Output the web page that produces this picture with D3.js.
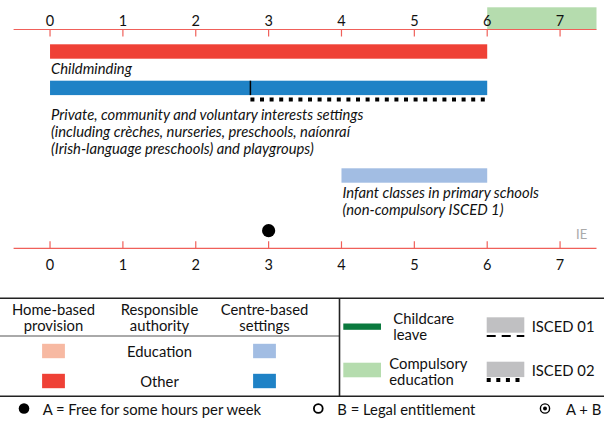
<!DOCTYPE html>
<html>
<head>
<meta charset="utf-8">
<script src="https://cdn.jsdelivr.net/npm/d3@7"></script>
<style>
  body { margin: 0; background: #fff; }
  svg { display: block; font-family: Lato, "Open Sans", sans-serif; }
</style>
</head>
<body>
<div id="chart"></div>
<script>
// ages on the axis
const ageTicks = [0, 1, 2, 3, 4, 5, 6, 7]
const ageDomain = [-0.5, 7.5]

// provision bars
const barLabels = [
  ['Childminding'],
  ['Private, community and voluntary interests settings',
   '(including crèches, nurseries, preschools, naíonraí',
   '(Irish-language preschools) and playgroups)'],
  ['Infant classes in primary schools', '(non-compulsory ISCED 1)']
]
const barStart = [0, 0, 4]
const barEnd = [6, 6, 6]
const barSetting = ['home', 'centre', 'centre']
const barAuthority = ['other', 'other', 'education']
const barIsced = [null, '02', null]
const iscedStart = [null, 2.75, null]

const compulsoryStart = 6
const freeHoursAge = 3 // A = free for some hours per week
const countryCode = 'IE'

// legend
const legendSettings = ['home', 'centre']
const legendSettingHeads = [['Home-based', 'provision'], ['Centre-based', 'settings']]
const legendAuthorities = ['education', 'other']
const legendAuthorityNames = ['Education', 'Other']

const colour = {
  home: { education: '#f7b9a2', other: '#ef4136' },
  centre: { education: '#a2bde3', other: '#1f82c6' }
}
const axisRed = '#f0605a'

const W = 604, H = 421
const svg = d3.select('#chart').append('svg').attr('width', W).attr('height', H)

const x = d3.scaleLinear().domain(ageDomain).range([13.6, 596.5])

// compulsory education band
svg.append('rect')
  .attr('x', x(compulsoryStart)).attr('y', 7.3)
  .attr('width', x(ageDomain[1]) - x(compulsoryStart)).attr('height', 22.2)
  .attr('fill', '#b5dcae')

function drawAxis(y, orient) {
  const g = svg.append('g').attr('transform', `translate(0,${y})`)
  g.append('line').attr('x1', x(ageDomain[0])).attr('x2', x(ageDomain[1]))
    .attr('stroke', axisRed).attr('stroke-width', 1.2)
  const dir = orient === 'top' ? 1 : -1
  g.selectAll('line.t').data(ageTicks).join('line').attr('class', 't')
    .attr('x1', d => x(d)).attr('x2', d => x(d))
    .attr('y1', 0).attr('y2', dir * 7)
    .attr('stroke', axisRed).attr('stroke-width', 1.2)
  g.selectAll('text').data(ageTicks).join('text')
    .attr('x', d => x(d)).attr('y', orient === 'top' ? -9.5 : 16)
    .attr('text-anchor', 'middle').attr('dominant-baseline', 'central')
    .attr('font-size', 14.5).attr('fill', '#111')
    .text(d => d)
}
drawAxis(29.5, 'top')
drawAxis(248.3, 'bottom')

// bars with labels underneath
const rowTop = [44.3, 80.7, 168.3]
const barH = 14.4
const lineGap = 17
barLabels.forEach((lines, i) => {
  const top = rowTop[i]
  svg.append('rect')
    .attr('x', x(barStart[i])).attr('y', top)
    .attr('width', x(barEnd[i]) - x(barStart[i])).attr('height', barH)
    .attr('fill', colour[barSetting[i]][barAuthority[i]])
  let base = top + barH + 14.8
  if (barIsced[i]) {
    const xs = x(iscedStart[i])
    svg.append('line').attr('x1', xs).attr('x2', xs)
      .attr('y1', top).attr('y2', top + barH)
      .attr('stroke', '#000').attr('stroke-width', 1.5)
    svg.append('line').attr('x1', xs).attr('x2', x(barEnd[i]))
      .attr('y1', top + barH + 4.5).attr('y2', top + barH + 4.5)
      .attr('stroke', '#000').attr('stroke-width', 4)
      .attr('stroke-dasharray', barIsced[i] === '02' ? '4,5.6' : '9,6')
    base = top + barH + 25
  }
  svg.append('text')
    .attr('x', x(barStart[i]) + 1).attr('y', base)
    .attr('font-size', 14.8).attr('font-style', 'italic').attr('fill', '#111')
    .selectAll('tspan').data(lines).join('tspan')
    .attr('x', x(barStart[i]) + 1).attr('dy', (d, j) => j ? lineGap : 0)
    .text(d => d)
})

// A marker
svg.append('circle').attr('cx', x(freeHoursAge)).attr('cy', 230.7).attr('r', 6.6).attr('fill', '#000')
svg.append('text').attr('x', 581.7).attr('y', 234).attr('text-anchor', 'middle')
  .attr('dominant-baseline', 'central').attr('font-size', 13).attr('fill', '#aaa')
  .text(countryCode)

// ---- legend ----
const lg = svg.append('g')
const fs = 14.8
const lh = 16
lg.append('line').attr('x1', 0).attr('x2', W).attr('y1', 298.3).attr('y2', 298.3).attr('stroke', '#222').attr('stroke-width', 1.6)
lg.append('line').attr('x1', 0).attr('x2', W).attr('y1', 396.3).attr('y2', 396.3).attr('stroke', '#222').attr('stroke-width', 1.6)
lg.append('line').attr('x1', 0).attr('x2', 339.5).attr('y1', 336).attr('y2', 336).attr('stroke', '#555').attr('stroke-width', 1)
lg.append('line').attr('x1', 339.5).attr('x2', 339.5).attr('y1', 298.3).attr('y2', 396.3).attr('stroke', '#222').attr('stroke-width', 1.6)

const colX = d3.scaleOrdinal().domain(['home', 'authority', 'centre']).range([53.5, 159.5, 264.5])
const rowY = d3.scaleOrdinal().domain(legendAuthorities).range([351, 381])
const heads = [legendSettingHeads[0], ['Responsible', 'authority'], legendSettingHeads[1]]
;['home', 'authority', 'centre'].forEach((k, i) => {
  lg.append('text').attr('text-anchor', 'middle').attr('font-size', fs).attr('fill', '#111')
    .selectAll('tspan').data(heads[i]).join('tspan')
    .attr('x', colX(k)).attr('y', (d, j) => 315.3 + j * lh)
    .text(d => d)
})
legendSettings.forEach(s => {
  legendAuthorities.forEach(a => {
    lg.append('rect').attr('x', colX(s) - 11.4).attr('y', rowY(a) - 7.2)
      .attr('width', 22.8).attr('height', 14.4).attr('fill', colour[s][a])
  })
})
legendAuthorities.forEach((a, i) => {
  lg.append('text').attr('x', colX('authority')).attr('y', rowY(a))
    .attr('text-anchor', 'middle').attr('dominant-baseline', 'central')
    .attr('font-size', fs).attr('fill', '#111').text(legendAuthorityNames[i])
})

// right half of legend
lg.append('rect').attr('x', 343.3).attr('y', 323.5).attr('width', 37.7).attr('height', 6.3).attr('fill', '#0b7a3e')
lg.append('rect').attr('x', 343.3).attr('y', 362.7).attr('width', 37.7).attr('height', 14.6).attr('fill', '#b5dcae')
function multi(xp, y0, lines) {
  lg.append('text').attr('font-size', fs).attr('fill', '#111')
    .selectAll('tspan').data(lines).join('tspan')
    .attr('x', xp).attr('y', (d, j) => y0 + j * lh).text(d => d)
}
multi(393.3, 324, ['Childcare', 'leave'])
multi(389.3, 368.6, ['Compulsory', 'education'])

;[['01', 317.3, '9,6', 1.8, 336], ['02', 361.7, '4,5.6', 4, 380]].forEach(([code, y, dash, sw, ly]) => {
  lg.append('rect').attr('x', 486.7).attr('y', y).attr('width', 37.6).attr('height', 15.4).attr('fill', '#c0c0c2')
  lg.append('line').attr('x1', 486.7).attr('x2', 524.3).attr('y1', ly).attr('y2', ly)
    .attr('stroke', '#000').attr('stroke-width', sw).attr('stroke-dasharray', dash)
  lg.append('text').attr('x', 531.7).attr('y', y + 8.5).attr('dominant-baseline', 'central')
    .attr('font-size', fs).attr('fill', '#111').text('ISCED ' + code)
})

// access markers row
const accY = 408.5
lg.append('circle').attr('cx', 24).attr('cy', accY).attr('r', 5.3).attr('fill', '#000')
lg.append('circle').attr('cx', 318.3).attr('cy', accY).attr('r', 4.4).attr('fill', 'none').attr('stroke', '#000').attr('stroke-width', 1.8)
lg.append('circle').attr('cx', 545).attr('cy', accY).attr('r', 4.6).attr('fill', 'none').attr('stroke', '#000').attr('stroke-width', 1.4)
lg.append('circle').attr('cx', 545).attr('cy', accY).attr('r', 2).attr('fill', '#000')
;[[42.7, 'A = Free for some hours per week'], [337.3, 'B = Legal entitlement'], [566, 'A + B']].forEach(([xp, t]) => {
  lg.append('text').attr('x', xp).attr('y', accY).attr('dominant-baseline', 'central')
    .attr('font-size', fs).attr('fill', '#111').text(t)
})
</script>
</body>
</html>
